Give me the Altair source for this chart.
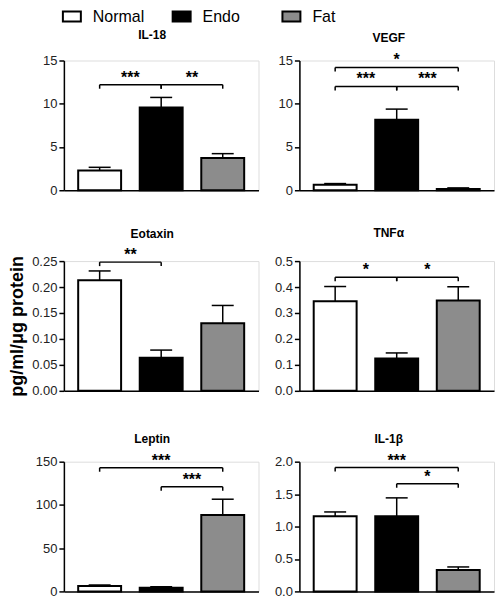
import altair as alt
import pandas as pd

groups = ["Normal", "Endo", "Fat"]
positions = [0, 1, 2]
fills = ["white", "black", "#8c8c8c"]

# --- values (mean, SEM) ---
il18_mean = [2.27, 9.58, 3.73]
il18_sem = [0.38, 1.15, 0.5]
vegf_mean = [0.62, 8.15, 0.15]
vegf_sem = [0.15, 1.23, 0.12]
eotaxin_mean = [0.213, 0.0635, 0.130]
eotaxin_sem = [0.018, 0.015, 0.0345]
tnfa_mean = [0.345, 0.125, 0.348]
tnfa_sem = [0.057, 0.021, 0.053]
leptin_mean = [6.2, 4.3, 88.4]
leptin_sem = [1.2, 1.1, 18.2]
il1b_mean = [1.158, 1.158, 0.331]
il1b_sem = [0.067, 0.284, 0.046]

# y-axis tick values
il18_ticks = [0, 5, 10, 15]
vegf_ticks = [0, 5, 10, 15]
eotaxin_ticks = [0.0, 0.05, 0.10, 0.15, 0.20, 0.25]
tnfa_ticks = [0.0, 0.1, 0.2, 0.3, 0.4, 0.5]
leptin_ticks = [0, 50, 100, 150]
il1b_ticks = [0.0, 0.5, 1.0, 1.5, 2.0]

# significance brackets: (from group index, to group index, level, label)
il18_brackets = [(0, 1, 12.2, "***"), (1, 2, 12.2, "**")]
vegf_brackets = [(0, 2, 14.2, "*"), (0, 1, 12.0, "***"), (1, 2, 12.0, "***")]
eotaxin_brackets = [(0, 1, 0.248, "**")]
tnfa_brackets = [(0, 1, 0.438, "*"), (1, 2, 0.438, "*")]
leptin_brackets = [(0, 2, 143, "***"), (1, 2, 121, "***")]
il1b_brackets = [(0, 2, 1.91, "***"), (1, 2, 1.66, "*")]

FONT = "Liberation Sans"
PW, PH = 195, 130

LEGEND = alt.Legend(orient="none", legendX=0, legendY=-52, direction="horizontal",
                    columns=3, gridAlign="all",
                    title=None, symbolType="M-1.8,-1H1.8V1H-1.8Z", symbolSize=100,
                    symbolStrokeColor="black", symbolStrokeWidth=2,
                    labelFontSize=16, labelFont=FONT, labelColor="black",
                    labelOffset=13, columnPadding=24)


def panel(title, means, sems, ticks, fmt, brackets, dx, toff, ytitle=None):
    df = pd.DataFrame({"group": groups, "pos": positions, "mean": means, "sem": sems})
    bdf = pd.DataFrame(brackets, columns=["start", "end", "level", "label"])
    yscale = alt.Scale(domain=[ticks[0], ticks[-1]], nice=False, zero=True)
    xscale = alt.Scale(domain=[-0.5, 2.5], nice=False, zero=False)
    xaxis = alt.Axis(title=None, labels=False, ticks=False, grid=False,
                     domainColor="black", domainWidth=1.5)
    yaxis_kwargs = dict(values=ticks, format=fmt, grid=False, domainColor="black",
                        domainWidth=1.5, tickColor="black", tickWidth=1.5, tickSize=5,
                        labelFontSize=13, labelColor="#222", labelPadding=2,
                        labelFont=FONT, labelOverlap=False, labelFlush=False,
                        tickCount=len(ticks))
    if ytitle:
        yaxis = alt.Axis(title=ytitle, titleFontSize=18, titleFontWeight="bold",
                         titleFont=FONT, titleColor="black", titlePadding=5, **yaxis_kwargs)
    else:
        yaxis = alt.Axis(title=None, **yaxis_kwargs)

    def X(field):
        return alt.X(field, scale=xscale, axis=xaxis)

    def Y(field):
        return alt.Y(field, scale=yscale, axis=yaxis)

    base = alt.Chart(df)
    bars = base.mark_bar(size=43, stroke="black", strokeWidth=2, orient="vertical").encode(
        x=X("pos:Q"),
        y=Y("mean:Q"),
        fill=alt.Fill("group:N", scale=alt.Scale(domain=groups, range=fills), legend=LEGEND),
    )
    err = base.transform_calculate(upper="datum.mean + datum.sem").mark_rule(
        color="black", strokeWidth=1.5).encode(
        x=X("pos:Q"),
        y=Y("mean:Q"),
        y2="upper:Q",
    )
    cap = base.transform_calculate(upper="datum.mean + datum.sem").mark_rule(
        color="black", strokeWidth=1.5, xOffset=-11, x2Offset=11).encode(
        x=X("pos:Q"),
        x2="pos:Q",
        y=Y("upper:Q"),
    )
    bch = alt.Chart(bdf)
    hline = bch.mark_rule(color="black", strokeWidth=1.5).encode(
        x=X("start:Q"),
        x2="end:Q",
        y=Y("level:Q"),
    )
    ends = bch.transform_fold(["start", "end"], as_=["side", "xpos"]).mark_rule(
        color="black", strokeWidth=1.5, y2Offset=4).encode(
        x=X("xpos:Q"),
        y=Y("level:Q"),
        y2="level:Q",
    )
    stars = bch.transform_calculate(mid="(datum.start + datum.end) / 2").mark_text(
        baseline="alphabetic", fontSize=16, fontWeight="bold", font=FONT,
        color="black", dy=-2).encode(
        x=X("mid:Q"),
        y=Y("level:Q"),
        text="label:N",
    )
    return alt.layer(bars, err, cap, hline, ends, stars).properties(
        width=PW, height=PH,
        title=alt.TitleParams(text=title, fontSize=12, fontWeight="bold", font=FONT,
                              color="black", anchor="middle", offset=toff, dx=dx),
    )


p1 = panel("IL-18", il18_mean, il18_sem, il18_ticks, "d", il18_brackets, -9, 13)
p2 = panel("VEGF", vegf_mean, vegf_sem, vegf_ticks, "d", vegf_brackets, -8, 7)
p3 = panel("Eotaxin", eotaxin_mean, eotaxin_sem, eotaxin_ticks, ".2f", eotaxin_brackets, -9, 6,
           ytitle="pg/ml/μg protein")
p4 = panel("TNFα", tnfa_mean, tnfa_sem, tnfa_ticks, ".1f", tnfa_brackets, -8, 15)
p5 = panel("Leptin", leptin_mean, leptin_sem, leptin_ticks, "d", leptin_brackets, -9, 7)
p6 = panel("IL-1β", il1b_mean, il1b_sem, il1b_ticks, ".1f", il1b_brackets, -8, 7)

chart = alt.concat(
    p1, p2, p3, p4, p5, p6, columns=2,
    spacing=alt.RowColnumber(row=71, column=41), bounds="flush",
).properties(padding=0).configure_view(
    stroke=None
).configure(font=FONT)

chart.save("out.html", embed_options={"renderer": "svg", "actions": False})
